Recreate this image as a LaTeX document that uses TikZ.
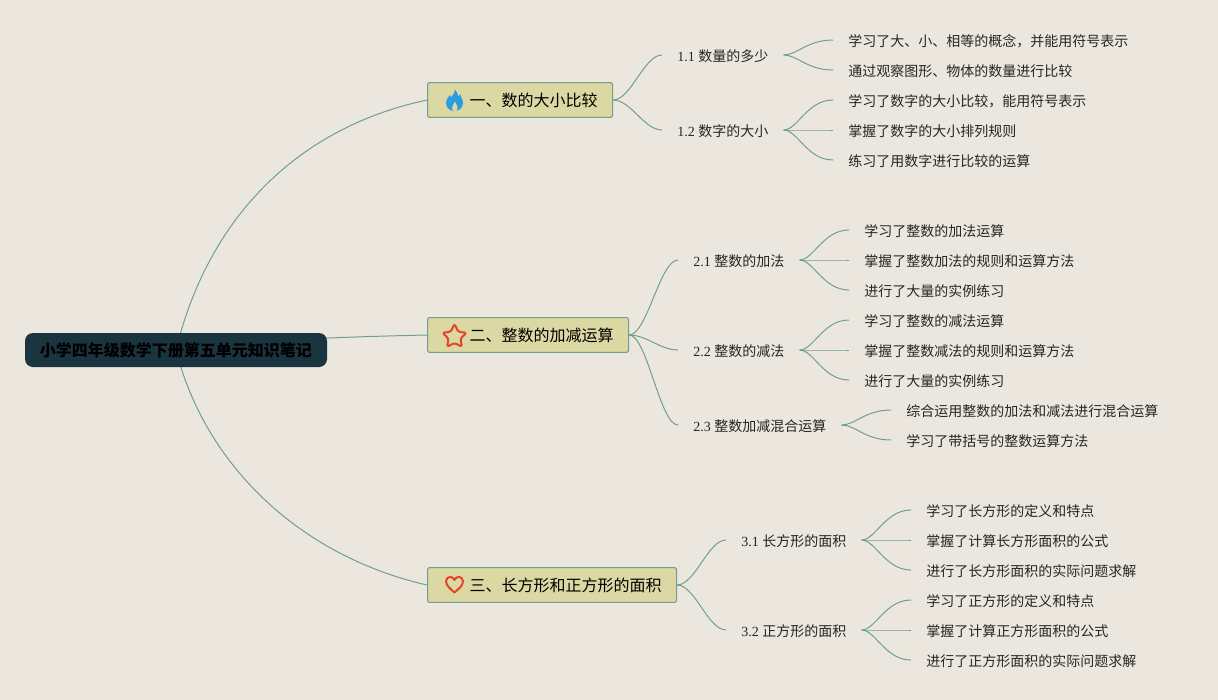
\documentclass[tikz,border=0pt]{standalone}
\usepackage{fontspec}
\setmainfont{Noto Sans CJK SC}
\newfontfamily\lat{Liberation Serif}
\usetikzlibrary{backgrounds}
\definecolor{bgc}{HTML}{EBE7DF}
\definecolor{linec}{HTML}{6FA08E}
\definecolor{topicc}{HTML}{DCD8A3}
\definecolor{rootc}{HTML}{1B3540}
\definecolor{flamec}{HTML}{2A9DE0}
\definecolor{redc}{HTML}{E2462A}
\newcommand{\tpc}[1]{\hspace*{31.5pt}#1\hspace*{11.25pt}}
\newcommand{\fwc}{\char"FF0C\relax}
\tikzset{
  x=0.75pt,y=-0.75pt,
  rootbox/.style={fill=rootc,rounded corners=6pt,minimum height=25.5pt,minimum width=226.5pt,inner sep=0pt,text=black,text height=12pt,text depth=1.9pt,font=\fontsize{12}{14}\selectfont\bfseries},
  topicbox/.style={anchor=west,fill=topicc,draw=linec,line width=0.8pt,rounded corners=1.5pt,minimum height=26pt,inner xsep=0pt,inner ysep=0pt,text=black,text height=12pt,text depth=1.9pt,font=\fontsize{12}{14}\selectfont},
  subnode/.style={anchor=west,inner xsep=11.25pt,inner ysep=0pt,text=black!85,text height=11pt,text depth=1.5pt,font=\fontsize{10.5}{12}\selectfont},
  leaf/.style={anchor=west,inner xsep=11.25pt,inner ysep=0pt,text=black!85,text height=11pt,text depth=1.5pt,font=\fontsize{10.5}{12}\selectfont},
  conn/.style={draw=linec,line width=0.75pt},
  icon/.style={draw=redc,line width=1.5pt,line join=round}
}
\newcommand{\link}[2]{\draw[conn] (#1.east) .. controls +(18,0) and +(-18,0) .. (#2.west);}
\newcommand{\twig}[2]{\draw[conn] (#1.east) .. controls +(14,0) and +(-26,0) .. (#2.west);}
\begin{document}
\begin{tikzpicture}
\useasboundingbox (0,0) rectangle (1218,700);

\node[rootbox] (root) at (176,350) {小学四年级数学下册第五单元知识笔记};

\node[topicbox] (t1) at (427,100) {\tpc{一、数的大小比较}};
\node[topicbox] (t2) at (427,335) {\tpc{二、整数的加减运算}};
\node[topicbox] (t3) at (427,585) {\tpc{三、长方形和正方形的面积}};

\node[subnode] (s11) at (662,55) {{\lat 1.1 }数量的多少};
\node[subnode] (s12) at (662,130) {{\lat 1.2 }数字的大小};
\node[subnode] (s21) at (678,260) {{\lat 2.1 }整数的加法};
\node[subnode] (s22) at (678,350) {{\lat 2.2 }整数的减法};
\node[subnode] (s23) at (678,425) {{\lat 2.3 }整数加减混合运算};
\node[subnode] (s31) at (726,540) {{\lat 3.1 }长方形的面积};
\node[subnode] (s32) at (726,630) {{\lat 3.2 }正方形的面积};

\node[leaf] (a1) at (833,40) {学习了大、小、相等的概念\fwc 并能用符号表示};
\node[leaf] (a2) at (833,70) {通过观察图形、物体的数量进行比较};
\node[leaf] (a3) at (833,100) {学习了数字的大小比较\fwc 能用符号表示};
\node[leaf] (a4) at (833,130) {掌握了数字的大小排列规则};
\node[leaf] (a5) at (833,160) {练习了用数字进行比较的运算};
\node[leaf] (b1) at (849,230) {学习了整数的加法运算};
\node[leaf] (b2) at (849,260) {掌握了整数加法的规则和运算方法};
\node[leaf] (b3) at (849,290) {进行了大量的实例练习};
\node[leaf] (b4) at (849,320) {学习了整数的减法运算};
\node[leaf] (b5) at (849,350) {掌握了整数减法的规则和运算方法};
\node[leaf] (b6) at (849,380) {进行了大量的实例练习};
\node[leaf] (b7) at (891,410) {综合运用整数的加法和减法进行混合运算};
\node[leaf] (b8) at (891,440) {学习了带括号的整数运算方法};
\node[leaf] (c1) at (911,510) {学习了长方形的定义和特点};
\node[leaf] (c2) at (911,540) {掌握了计算长方形面积的公式};
\node[leaf] (c3) at (911,570) {进行了长方形面积的实际问题求解};
\node[leaf] (c4) at (911,600) {学习了正方形的定义和特点};
\node[leaf] (c5) at (911,630) {掌握了计算正方形面积的公式};
\node[leaf] (c6) at (911,660) {进行了正方形面积的实际问题求解};

\begin{scope}[on background layer]
  \fill[bgc] (0,0) rectangle (1218,700);
  \draw[conn] (root.center) .. controls (209,215) and (300,127) .. (t1.west);
  \draw[conn] (root.center) .. controls (205,465) and (300,556) .. (t3.west);
  \draw[conn] (root.center) .. controls (250,340) and (340,337) .. (t2.west);
  \link{t1}{s11}\link{t1}{s12}
  \link{t2}{s21}\link{t2}{s22}\link{t2}{s23}
  \link{t3}{s31}\link{t3}{s32}
  \twig{s11}{a1}\twig{s11}{a2}
  \twig{s12}{a3}\twig{s12}{a4}\twig{s12}{a5}
  \twig{s21}{b1}\twig{s21}{b2}\twig{s21}{b3}
  \twig{s22}{b4}\twig{s22}{b5}\twig{s22}{b6}
  \twig{s23}{b7}\twig{s23}{b8}
  \twig{s31}{c1}\twig{s31}{c2}\twig{s31}{c3}
  \twig{s32}{c4}\twig{s32}{c5}\twig{s32}{c6}
\end{scope}

% flame
\begin{scope}[shift={(454.5,100)}]
  \fill[flamec] (0,-11) .. controls (1,-7) and (-2,-5) .. (-3.5,-2.5)
    .. controls (-4,-3.5) and (-4.5,-4.5) .. (-4.5,-5)
    .. controls (-7,-2.5) and (-8.5,0) .. (-8.5,3)
    .. controls (-8.5,8) and (-4.5,11) .. (0,11)
    .. controls (4.5,11) and (8.5,8) .. (8.5,3)
    .. controls (8.5,-1) and (6,-3) .. (5.5,-6)
    .. controls (4.5,-5) and (4,-4) .. (4,-3)
    .. controls (3.5,-6) and (2,-9) .. (0,-11) -- cycle;
  \fill[topicc] (0.5,1.5) .. controls (0,3.5) and (-2.5,5.5) .. (-2.5,8)
    .. controls (-2.5,9.5) and (-1.5,10.5) .. (-0.5,11)
    -- (1.5,11) .. controls (3,10) and (3.2,8.5) .. (3,7)
    .. controls (2.8,5) and (1,4) .. (0.5,1.5) -- cycle;
\end{scope}
% star
\begin{scope}[shift={(454.5,336.5)}]
  \draw[icon,rounded corners=2pt] (0,-13) -- (3.6,-4.6) -- (12.4,-3.8) -- (5.8,2) -- (7.6,10.6) -- (0,6.2) -- (-7.6,10.6) -- (-5.8,2) -- (-12.4,-3.8) -- (-3.6,-4.6) -- cycle;
\end{scope}
% heart
\begin{scope}[shift={(454.5,584.5)}]
  \draw[icon] (0,8) .. controls (-4,4.5) and (-8.5,1) .. (-8.5,-3.2)
    .. controls (-8.5,-6.2) and (-6.3,-7.6) .. (-4.4,-7.6)
    .. controls (-2.4,-7.6) and (-1,-6.4) .. (0,-4.6)
    .. controls (1,-6.4) and (2.4,-7.6) .. (4.4,-7.6)
    .. controls (6.3,-7.6) and (8.5,-6.2) .. (8.5,-3.2)
    .. controls (8.5,1) and (4,4.5) .. (0,8) -- cycle;
\end{scope}
\end{tikzpicture}
\end{document}
